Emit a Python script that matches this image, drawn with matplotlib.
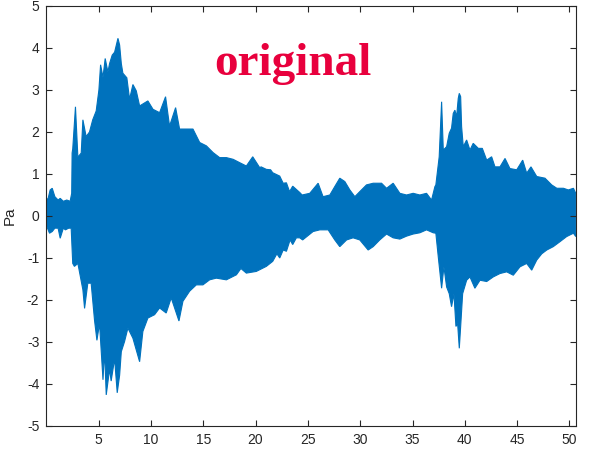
import matplotlib
matplotlib.use("Agg")
import matplotlib.pyplot as plt
import numpy as np

plt.rcParams["axes.unicode_minus"] = False
plt.rcParams["font.family"] = ["Liberation Sans", "DejaVu Sans"]

# Peak envelope of the recorded pressure signal (seconds, Pa)
upper_t = [0.0, 0.18, 0.37, 0.57, 0.82, 1.13, 1.33, 1.63, 1.96, 2.28, 2.43,
           2.47, 2.53, 2.79, 3.02, 3.34, 3.5, 3.81, 4.13, 4.44, 4.77, 5.03,
           5.19, 5.42, 5.63, 5.89, 6.05, 6.3, 6.53, 6.85, 7.01, 7.17, 7.32,
           7.7, 7.96, 8.28, 8.6, 8.92, 9.71, 10.2, 10.83, 11.4, 11.78, 12.36,
           12.74, 13.38, 14.02, 14.66, 15.3, 15.94, 16.57, 17.21, 17.85, 18.48,
           19.12, 19.73, 20.4, 20.53, 21.03, 21.44, 21.64, 22.31, 22.64, 22.95,
           23.25, 23.55, 24.22, 24.45, 25.18, 25.98, 26.45, 27.1, 27.57, 28.05,
           28.53, 29.01, 29.49, 29.96, 30.6, 31.24, 32.04, 32.52, 33.15, 33.79,
           34.43, 35.06, 35.7, 36.34, 36.82, 37.14, 37.23, 37.55, 37.78, 37.94,
           38.26, 38.51, 38.73, 38.89, 39.05, 39.21, 39.37, 39.47, 39.6, 39.69,
           39.85, 40.17, 40.49, 40.8, 41.29, 41.67, 42.09, 42.56, 42.88, 43.36,
           43.84, 44.31, 44.96, 45.53, 45.91, 46.32, 46.87, 47.66, 48.3, 48.79,
           49.42, 49.89, 50.38, 50.6]
upper_v = [0.38, 0.42, 0.62, 0.66, 0.46, 0.38, 0.42, 0.35, 0.38, 0.35, 0.54,
           1.5, 1.6, 2.6, 1.4, 1.5, 2.29, 1.89, 2.0, 2.29, 2.5, 3.0,
           3.6, 3.3, 3.75, 3.43, 3.63, 3.83, 3.9, 4.23, 4.07, 3.63, 3.4,
           3.29, 2.78, 3.13, 2.98, 2.62, 2.74, 2.54, 2.46, 2.84, 2.14, 2.58,
           2.07, 2.07, 2.07, 1.75, 1.67, 1.51, 1.39, 1.39, 1.35, 1.27,
           1.19, 1.41, 1.15, 1.17, 1.11, 1.1, 1.03, 0.95, 0.78, 0.79,
           0.58, 0.71, 0.56, 0.5, 0.54, 0.78, 0.46, 0.5, 0.7, 0.9,
           0.82, 0.62, 0.46, 0.58, 0.74, 0.78, 0.78, 0.66, 0.78, 0.54,
           0.5, 0.54, 0.5, 0.54, 0.38, 0.7, 0.74, 1.41, 2.72, 1.57,
           1.65, 1.97, 2.09, 2.44, 2.52, 2.36, 2.8, 2.92, 2.84, 2.13,
           1.65, 1.81, 1.57, 1.73, 1.61, 1.61, 1.33, 1.41, 1.17, 1.17,
           1.37, 1.13, 1.1, 1.33, 1.02, 1.17, 0.94, 0.9, 0.74, 0.66,
           0.66, 0.62, 0.66, 0.54]

lower_t = [0.0, 0.18, 0.31, 0.57, 0.82, 1.13, 1.33, 1.63, 1.83, 2.14, 2.38,
           2.47, 2.53, 2.69, 3.02, 3.5, 3.66, 3.97, 4.29, 4.61, 4.84, 5.09,
           5.42, 5.57, 5.73, 6.05, 6.2, 6.53, 6.78, 7.01, 7.17, 7.48, 7.8,
           8.28, 8.92, 9.23, 9.71, 10.35, 10.83, 11.46, 11.94, 12.68, 13.06,
           13.7, 14.34, 14.97, 15.61, 16.25, 17.21, 18.17, 18.6, 19.12, 20.07,
           21.03, 21.64, 22.04, 22.31, 22.64, 22.95, 23.3, 23.55, 23.9, 24.22,
           24.5, 25.5, 26.14, 26.94, 27.57, 28.05, 28.7, 29.32, 29.96, 30.76,
           31.24, 31.87, 32.52, 33.15, 33.79, 34.43, 35.06, 35.7, 36.34, 36.98,
           37.23, 37.46, 37.78, 38.0, 38.26, 38.51, 38.73, 38.96, 39.15, 39.31,
           39.47, 39.6, 39.79, 40.17, 40.49, 40.96, 41.45, 42.09, 42.72, 43.36,
           44.0, 44.63, 45.27, 45.91, 46.39, 46.87, 47.35, 47.83, 48.45, 49.1,
           49.73, 50.38, 50.6]
lower_v = [-0.21, -0.33, -0.41, -0.37, -0.29, -0.29, -0.53, -0.29, -0.33, -0.29, -0.29,
           -0.8, -1.13, -1.2, -1.13, -1.76, -2.2, -1.6, -1.6, -2.48, -2.96, -2.56,
           -3.9, -3.2, -4.26, -3.65, -3.93, -3.4, -4.21, -3.79, -3.23, -2.99, -2.67,
           -2.91, -3.47, -2.75, -2.43, -2.35, -2.19, -2.31, -1.95, -2.5, -2.03,
           -1.79, -1.64, -1.64, -1.52, -1.48, -1.52, -1.4, -1.25, -1.36, -1.32,
           -1.2, -1.08, -0.9, -1.0, -0.81, -0.84, -0.57, -0.68, -0.52, -0.52,
           -0.57, -0.37, -0.33, -0.33, -0.57, -0.73, -0.57, -0.52, -0.57, -0.81,
           -0.73, -0.57, -0.43, -0.52, -0.55, -0.48, -0.43, -0.4, -0.33, -0.4,
           -0.41, -0.97, -1.72, -1.21, -1.69, -1.85, -2.16, -1.85, -2.63, -2.56,
           -3.15, -2.63, -1.85, -1.53, -1.45, -1.72, -1.53, -1.56, -1.45, -1.37,
           -1.33, -1.41, -1.21, -1.13, -1.29, -1.05, -0.9, -0.81, -0.73, -0.61,
           -0.49, -0.41, -0.49]

x_ticks = [5, 10, 15, 20, 25, 30, 35, 40, 45, 50]
y_ticks = [-5, -4, -3, -2, -1, 0, 1, 2, 3, 4, 5]

wave_color = "#0072BD"
axis_color = "#262626"

fig = plt.figure(figsize=(5.91, 4.54), dpi=100)
ax = fig.add_axes([0.0783, 0.0617, 0.8968, 0.9251])

# Closed outline: upper envelope left-to-right, lower envelope back again
poly_t = np.concatenate([upper_t, lower_t[::-1]])
poly_v = np.concatenate([upper_v, lower_v[::-1]])
ax.fill(poly_t, poly_v, color=wave_color, lw=0.8, ec=wave_color)

ax.set_xlim(0, 50.65)
ax.set_ylim(-5, 5)
ax.set_xticks(x_ticks)
ax.set_yticks(y_ticks)
ax.tick_params(direction="in", top=True, right=True, length=4, width=0.8,
               colors=axis_color, labelsize=10, pad=5)
for s in ax.spines.values():
    s.set_color(axis_color)
    s.set_linewidth(0.8)

ax.set_ylabel("Pa", fontsize=11, color=axis_color, labelpad=7)

ax.text(16.1, 3.36, "original", color="#E8003D", fontsize=34,
        family=["Liberation Serif", "DejaVu Serif"], fontweight="bold",
        ha="left", va="baseline")

fig.savefig("out.png", dpi=100)
